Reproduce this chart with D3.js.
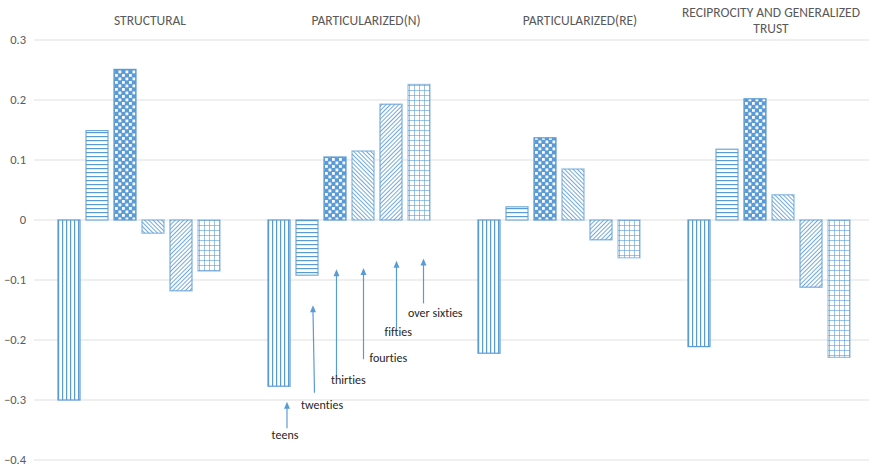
<!DOCTYPE html>
<html>
<head>
<meta charset="utf-8">
<script src="https://cdn.jsdelivr.net/npm/d3@7/dist/d3.min.js"></script>
<style>
  html, body { margin: 0; padding: 0; background: #fff; }
  svg { display: block; }
  text { font-family: Carlito, "Liberation Sans Narrow", "Open Sans", sans-serif; font-variant-ligatures: none; }
</style>
</head>
<body>
<svg id="chart" width="869" height="468"></svg>
<script>
// Trust dimensions (x categories) and age groups (series)
const categories = ["STRUCTURAL", "PARTICULARIZED(N)", "PARTICULARIZED(RE)", "RECIPROCITY AND GENERALIZED TRUST"];
const ageGroups = ["teens", "twenties", "thirties", "fourties", "fifties", "over sixties"];

// One value per category, for each age group
const teens       = [-0.300, -0.277, -0.222, -0.211];
const twenties    = [ 0.149, -0.092,  0.022,  0.118];
const thirties    = [ 0.251,  0.105,  0.137,  0.202];
const fourties    = [-0.022,  0.115,  0.085,  0.042];
const fifties     = [-0.118,  0.193, -0.033, -0.112];
const overSixties = [-0.085,  0.226, -0.063, -0.229];

const yTicks = [0.3, 0.2, 0.1, 0, -0.1, -0.2, -0.3, -0.4];

const seriesValues = [teens, twenties, thirties, fourties, fifties, overSixties];

// ---- layout ----
const W = 869, H = 468;
const blue = "#5b9bd5";
const svg = d3.select("#chart");

const y = d3.scaleLinear().domain([-0.4, 0.3]).range([460, 40]);
const x0 = d3.scaleBand().domain(categories).range([34, 874]).paddingInner(0).paddingOuter(0);
const x1 = d3.scaleBand().domain(ageGroups).range([0, x0.bandwidth()])
  .paddingInner(5 / 28).paddingOuter(0.839);

// ---- fill patterns ----
const defs = svg.append("defs");
function pattern(id, w, h, build, transform) {
  const p = defs.append("pattern").attr("id", id).attr("patternUnits", "userSpaceOnUse")
    .attr("width", w).attr("height", h);
  if (transform) p.attr("patternTransform", transform);
  p.append("rect").attr("width", w).attr("height", h).attr("fill", "#fff");
  build(p);
}
pattern("p-vert", 4, 4, p => p.append("rect").attr("x", 0).attr("width", 1.2).attr("height", 4).attr("fill", blue));
pattern("p-horz", 4, 4, p => p.append("rect").attr("y", 0).attr("width", 4).attr("height", 1.2).attr("fill", blue));
pattern("p-check", 7, 7, p => {
  p.select("rect").attr("fill", blue);
  p.append("rect").attr("x", 0.5).attr("y", 0.5).attr("width", 2.8).attr("height", 2.8).attr("fill", "#fff");
  p.append("rect").attr("x", 4).attr("y", 4).attr("width", 2.8).attr("height", 2.8).attr("fill", "#fff");
});
pattern("p-down", 3, 6, p => p.append("rect").attr("width", 1).attr("height", 6).attr("fill", blue).attr("opacity", 0.85), "rotate(-45)");
pattern("p-up", 3, 6, p => p.append("rect").attr("width", 1).attr("height", 6).attr("fill", blue).attr("opacity", 0.85), "rotate(45)");
pattern("p-grid", 5, 5, p => {
  p.append("rect").attr("width", 1).attr("height", 5).attr("fill", blue).attr("opacity", 0.6);
  p.append("rect").attr("width", 5).attr("height", 1).attr("fill", blue).attr("opacity", 0.6);
});
const fills = ["p-vert", "p-horz", "p-check", "p-down", "p-up", "p-grid"];
const strokeOpacity = [1, 0.85, 1, 0.7, 0.8, 0.6];

// ---- gridlines and y labels ----
svg.append("g").selectAll("line").data(yTicks).join("line")
  .attr("x1", 34).attr("x2", W)
  .attr("y1", d => y(d)).attr("y2", d => y(d))
  .attr("stroke", "#e0e0e0").attr("stroke-width", 1.2);

svg.append("g").selectAll("text").data(yTicks).join("text")
  .attr("x", 26).attr("y", d => y(d)).attr("dy", "0.35em")
  .attr("text-anchor", "end").attr("font-size", 12.5).attr("fill", "#595959")
  .text(d => d === 0 ? "0" : d3.format(".1f")(d));

// ---- bars ----
const groups = svg.append("g").selectAll("g").data(categories).join("g")
  .attr("transform", d => `translate(${x0(d)},0)`);

groups.selectAll("rect")
  .data((c, ci) => ageGroups.map((a, si) => ({ age: a, si, value: seriesValues[si][ci] })))
  .join("rect")
  .attr("x", d => x1(d.age) + 0.5)
  .attr("width", x1.bandwidth() - 1)
  .attr("y", d => Math.min(y(d.value), y(0)))
  .attr("height", d => Math.abs(y(d.value) - y(0)))
  .attr("fill", d => `url(#${fills[d.si]})`)
  .attr("stroke", blue)
  .attr("stroke-opacity", d => strokeOpacity[d.si])
  .attr("stroke-width", 1.2);

// ---- category titles, wrapped like a category axis ----
const titleNudge = [11, 17, 21, 2];
const titles = svg.append("g");
categories.forEach((c, i) => {
  const cx = x0(c) + x0.bandwidth() / 2 + titleNudge[i];
  const t = titles.append("text").attr("text-anchor", "middle")
    .attr("font-size", 13.5).attr("fill", "#595959");
  const words = c.split(" ");
  const lines = [];
  let line = [];
  words.forEach(w => {
    t.text([...line, w].join(" "));
    if (line.length && t.node().getComputedTextLength() > 200) { lines.push(line.join(" ")); line = [w]; }
    else line.push(w);
  });
  lines.push(line.join(" "));
  t.text(null);
  const top = 20 - (lines.length - 1) * 8;
  lines.forEach((l, k) => t.append("tspan").attr("x", cx).attr("y", top + k * 16).attr("dy", "0.35em").text(l));
});

// ---- age group callouts in the PARTICULARIZED(N) group ----
// arrow x offset from bar centre (px), tip/tail in value units, label offset and value
const callouts = [
  { age: "teens",        ax: 8,   tipDx: 8, tip: -0.303, tail: -0.347, lx: 6,   ly: -0.358, anchor: "middle" },
  { age: "twenties",     ax: 7.5, tipDx: 6, tip: -0.142, tail: -0.288, lx: -6,  ly: -0.308, anchor: "start" },
  { age: "thirties",     ax: 1.5, tipDx: 1.5, tip: -0.082, tail: -0.261, lx: -4, ly: -0.267, anchor: "start" },
  { age: "fourties",     ax: 0.5, tipDx: 0.5, tip: -0.080, tail: -0.232, lx: 6.5, ly: -0.230, anchor: "start" },
  { age: "fifties",      ax: 5.5, tipDx: 5.5, tip: -0.068, tail: -0.180, lx: -6.5, ly: -0.187, anchor: "start" },
  { age: "over sixties", ax: 4.5, tipDx: 4.5, tip: -0.064, tail: -0.139, lx: -11, ly: -0.155, anchor: "start" }
];
const host = categories[1];
const ann = svg.append("g");
callouts.forEach(c => {
  const bx = x0(host) + x1(c.age) + x1.bandwidth() / 2;
  const tx = bx + c.tipDx, ty = y(c.tip);
  ann.append("line")
    .attr("x1", bx + c.ax).attr("y1", y(c.tail))
    .attr("x2", tx).attr("y2", ty + 6)
    .attr("stroke", blue).attr("stroke-width", 1.2);
  ann.append("path")
    .attr("d", `M${tx},${ty} L${tx - 3},${ty + 7} L${tx + 3},${ty + 7} Z`)
    .attr("fill", blue);
  ann.append("text")
    .attr("x", bx + c.lx).attr("y", y(c.ly)).attr("dy", "0.35em")
    .attr("text-anchor", c.anchor)
    .attr("font-size", 12).attr("fill", "#262626")
    .text(c.age);
});
</script>
</body>
</html>
